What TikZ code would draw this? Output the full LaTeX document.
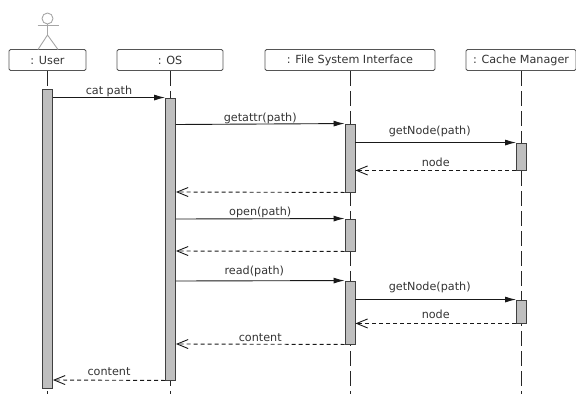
\documentclass[tikz,border=0pt]{standalone}
\usepackage{fontspec}
\setmainfont{DejaVu Sans}
\usepackage{tikz}
\usetikzlibrary{arrows.meta, positioning, calc}
\definecolor{linegray}{HTML}{555555}
\definecolor{textgray}{HTML}{333333}
\tikzset{%
	head/.style={draw=linegray, thick, rectangle, rounded corners=1.5pt, minimum height=21pt,%
		inner sep=0pt, fill=white, text=textgray, font=\fontsize{11.2}{12}\selectfont},
	act/.style={draw=black!75, line width=0.9pt, rectangle, minimum width=10pt, inner sep=0pt, fill=black!25},
	lifeline/.style={black!85, line width=0.9pt, dash pattern=on 15pt off 5pt},
	sync/.style={-{Latex[length=11pt,width=6pt]}, black!90, line width=0.9pt},
	reply/.style={-{Straight Barb[length=11pt,width=9pt]}, black!90, line width=0.9pt, dash pattern=on 4pt off 3pt},
	lab/.style={anchor=base, inner sep=0pt, text=textgray, font=\fontsize{11.2}{12}\selectfont},
	stick/.style={black!35, line width=0.9pt}
}

\begin{document}
\begin{tikzpicture}[x=1pt, y=-1pt]
	\useasboundingbox (0,0) rectangle (576,394);
	\node[head, minimum width=77pt] (user) at (47.5,60) {: User};
	\node[head, minimum width=106pt] (os) at (170,60) {: OS};
	\node[head, minimum width=170pt] (fsi) at (350,60) {: File System Interface};
	\node[head, minimum width=110pt] (cache) at (521,60) {: Cache Manager};

	% actor
	\node[draw=black!35, line width=0.9pt, circle, minimum size=11pt, inner sep=0pt] (actor) at (47.5,18.5) {};
	\coordinate (hip) at (47.5,35);
	\coordinate (armL) at (37.5,25);
	\coordinate (armR) at (58.5,25);
	\coordinate (footL) at (38,49.5);
	\coordinate (footR) at (58,49.5);
	\draw[stick] (actor) to (hip);
	\draw[stick] (armL) to (armR);
	\draw[stick] (footL) to (hip) to (footR);

	% lifelines
	\coordinate (bottom) at (0,394);
	\draw[lifeline] (user) to (user |- bottom);
	\draw[lifeline] (os) to (os |- bottom);
	\draw[lifeline] (fsi) to (fsi |- bottom);
	\draw[lifeline] (cache) to (cache |- bottom);

	% activations
	\node[act, minimum height=299pt] (aUser) at (47.5,238.5) {};
	\node[act, minimum height=282pt] (aOS) at (170.5,239) {};
	\node[act, minimum height=68pt] (aFsiA) at (350,158) {};
	\node[act, minimum height=32pt] (aFsiB) at (350,235) {};
	\node[act, minimum height=63pt] (aFsiC) at (350,312.5) {};
	\node[act, minimum height=27pt] (aCacheA) at (521.5,156.5) {};
	\node[act, minimum height=23pt] (aCacheB) at (521.5,311.5) {};

	% messages
	\coordinate (mAttr) at (0,124.5);
	\coordinate (mBack) at (0,192);
	\coordinate (mOpen) at (0,219);
	\coordinate (mClosed) at (0,251);
	\coordinate (mRead) at (0,281);
	\coordinate (mData) at (0,344);
	\coordinate (mDone) at (0,380);

	\draw[sync] (aUser.east |- aOS.north) to node[lab, yshift=3pt] {cat path} (aOS.north west);
	\draw[sync] (aOS.east |- mAttr) to node[lab, yshift=3pt] {getattr(path)} (aFsiA.north west);
	\draw[sync] (aFsiA.east |- aCacheA.north) to node[lab, xshift=-6pt, yshift=8pt] {getNode(path)} (aCacheA.north west);
	\draw[reply] (aCacheA.south west) to node[lab, yshift=4pt] {node} (aFsiA.east |- aCacheA.south);
	\draw[reply] (aFsiA.south west) to (aOS.east |- mBack);
	\draw[sync] (aOS.east |- mOpen) to node[lab, yshift=3pt] {open(path)} (aFsiB.north west);
	\draw[reply] (aFsiB.south west) to (aOS.east |- mClosed);
	\draw[sync] (aOS.east |- mRead) to node[lab, xshift=-6pt, yshift=6pt] {read(path)} (aFsiC.north west);
	\draw[sync] (aFsiC.east |- aCacheB.north) to node[lab, xshift=-6pt, yshift=9pt] {getNode(path)} (aCacheB.north west);
	\draw[reply] (aCacheB.south west) to node[lab, yshift=5pt] {node} (aFsiC.east |- aCacheB.south);
	\draw[reply] (aFsiC.south west) to node[lab, yshift=3pt] {content} (aOS.east |- mData);
	\draw[reply] (aOS.south west) to node[lab, yshift=5pt] {content} (aUser.east |- mDone);
\end{tikzpicture}
\end{document}
